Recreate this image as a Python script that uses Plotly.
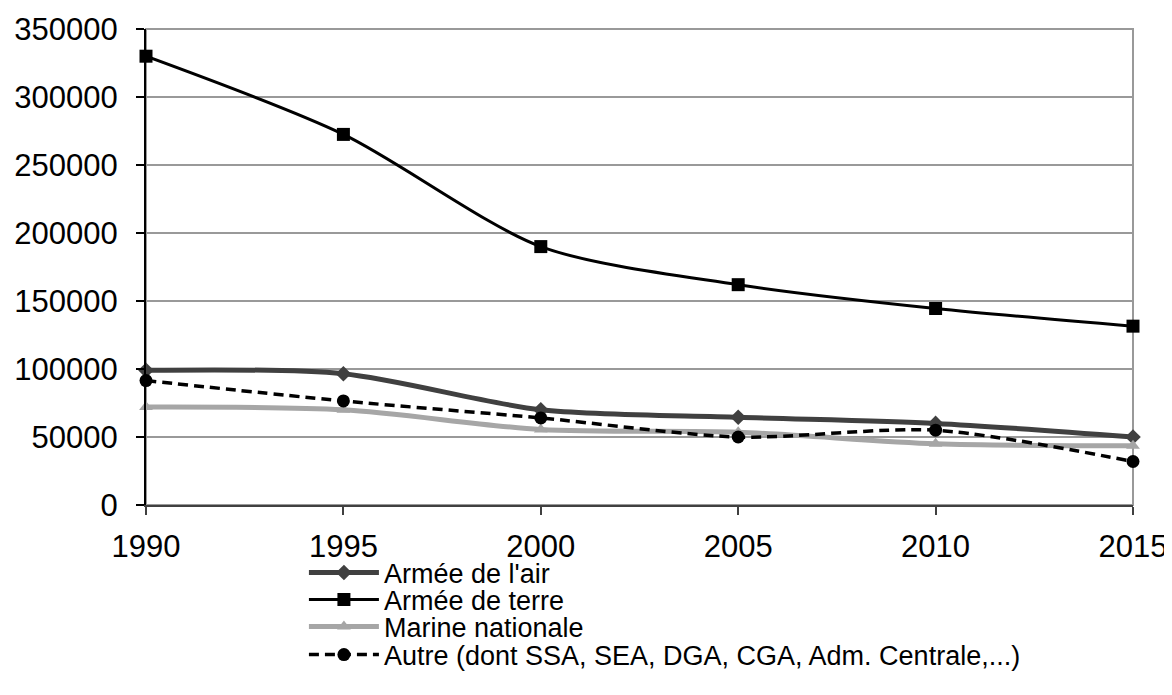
import plotly.graph_objects as go

years = [1990, 1995, 2000, 2005, 2010, 2015]
air = [99000, 96500, 70000, 64500, 60000, 50000]
terre = [330000, 272500, 190000, 162000, 144500, 131500]
marine = [72000, 70000, 55500, 53500, 45000, 43500]
autre = [91500, 76500, 64000, 50000, 55000, 32000]

names = ["Armée de l'air", "Armée de terre", "Marine nationale",
         "Autre (dont SSA, SEA, DGA, CGA, Adm. Centrale,...)"]
y_ticks = [0, 50000, 100000, 150000, 200000, 250000, 300000, 350000]

FONT = "Liberation Sans, Arial, sans-serif"

fig = go.Figure()
fig.add_trace(go.Scatter(x=years, y=air, name=names[0], mode="lines+markers", legend="legend",
                         line=dict(color="#404040", width=5, shape="spline", smoothing=0.8),
                         marker=dict(symbol="diamond", size=12, color="#404040"),
                         cliponaxis=False))
fig.add_trace(go.Scatter(x=years, y=terre, name=names[1], mode="lines+markers", legend="legend2",
                         line=dict(color="#000000", width=3, shape="spline", smoothing=0.8),
                         marker=dict(symbol="square", size=13, color="#000000"),
                         cliponaxis=False))
fig.add_trace(go.Scatter(x=years, y=marine, name=names[2], mode="lines+markers", legend="legend3",
                         line=dict(color="#a6a6a6", width=5, shape="spline", smoothing=0.8),
                         marker=dict(symbol="triangle-up", size=12, color="#a6a6a6"),
                         cliponaxis=False))
fig.add_trace(go.Scatter(x=years, y=autre, name=names[3], mode="lines+markers", legend="legend4",
                         line=dict(color="#000000", width=3.5, dash="10px,6px", shape="spline", smoothing=0.8),
                         marker=dict(symbol="circle", size=13, color="#000000"),
                         cliponaxis=False))

fig.add_shape(type="rect", xref="x domain", yref="y domain", x0=0, x1=1, y0=0, y1=1,
              line=dict(color="#999999", width=2), layer="below")

def leg(yval):
    return dict(x=0.160, y=yval, xanchor="left", yanchor="middle", itemwidth=70,
                font=dict(size=27, family=FONT), bgcolor="rgba(0,0,0,0)")

fig.update_layout(
    width=1172, height=695,
    margin=dict(l=138, r=47, t=21, b=198, autoexpand=False),
    paper_bgcolor="white", plot_bgcolor="white",
    font=dict(family=FONT, color="#000000"),
    showlegend=True,
    legend=leg(-0.1429),
    legend2=leg(-0.1996),
    legend3=leg(-0.2563),
    legend4=leg(-0.3151),
)
fig.update_xaxes(range=[1990, 2015], tickvals=years, ticktext=[str(y) for y in years],
                 showgrid=False, zeroline=False, showline=True, linecolor="#404040", linewidth=2,
                 ticks="outside", ticklen=8, tickcolor="#404040", tickwidth=2,
                 tickfont=dict(size=31, family=FONT), ticklabelstandoff=5)
fig.update_yaxes(range=[0, 350000], tickvals=y_ticks, ticktext=[str(v) for v in y_ticks],
                 showgrid=True, gridcolor="#999999", gridwidth=1.5,
                 zeroline=False, showline=True, linecolor="#000000", linewidth=2,
                 ticks="outside", ticklen=8, tickcolor="#000000", tickwidth=1.5,
                 tickfont=dict(size=31, family=FONT), ticklabelstandoff=12)

fig.write_html("out.html")
